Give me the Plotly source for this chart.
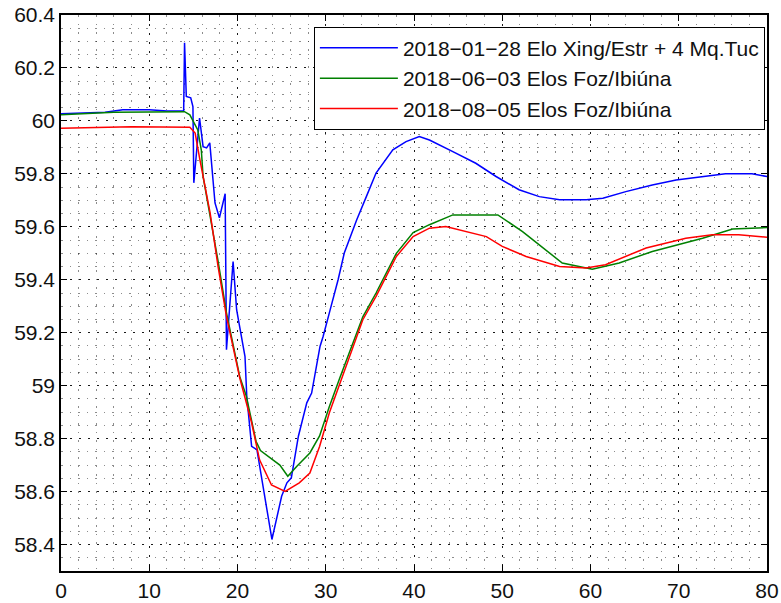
import plotly.graph_objects as go

# Frequency response (Hz) after three disturbance events, time in seconds
t_blue = [0, 5, 7, 10, 12, 13.9, 14.0, 14.2, 14.7, 14.95, 15.05, 15.7, 16.1, 16.5, 16.86,
          17.2, 17.45, 17.95, 18.6, 18.75, 19.5, 19.9, 20.3, 20.85, 21.05, 21.6, 22.2,
          22.75, 23.9, 25.0, 25.6, 26.1, 26.9, 27.85, 28.4, 29.35, 29.7, 30.4, 31.4, 32.1,
          33.5, 34.6, 35.7, 37.6, 39.1, 40.6, 41.75, 44.4, 47.0, 49.3, 51.9, 54.2, 56.5,
          59.5, 61.4, 64.0, 67.0, 69.7, 72.7, 75.3, 78.3, 80]
f_blue = [60.027, 60.033, 60.042, 60.042, 60.037, 60.037, 60.295, 60.092, 60.087, 60.054,
          59.766, 60.011, 59.903, 59.898, 59.917, 59.790, 59.690, 59.634, 59.725, 59.136,
          59.469, 59.287, 59.210, 59.110, 58.960, 58.771, 58.758, 58.645, 58.419, 58.582,
          58.633, 58.652, 58.809, 58.935, 58.972, 59.148, 59.186, 59.274, 59.400, 59.501,
          59.626, 59.714, 59.803, 59.891, 59.922, 59.941, 59.928, 59.884, 59.840, 59.790,
          59.740, 59.714, 59.702, 59.702, 59.708, 59.733, 59.758, 59.777, 59.790, 59.800,
          59.800, 59.790]

t_green = [0, 6, 14.0, 14.6, 15.5, 15.9, 16.1, 16.7, 17.8, 18.75, 19.5, 20.25, 21.0, 21.6,
           22.1, 22.6, 24.8, 25.7, 26.7, 28.2, 29.3, 30.4, 31.6, 34.2, 35.7, 38.0, 39.9,
           41.75, 44.4, 49.5, 52.3, 56.8, 60.2, 63.25, 67.0, 72.7, 76.1, 80]
f_green = [60.023, 60.033, 60.035, 60.023, 59.966, 59.890, 59.790, 59.677, 59.470, 59.275,
           59.150, 59.035, 58.960, 58.870, 58.790, 58.755, 58.700, 58.658, 58.695, 58.746,
           58.810, 58.920, 59.030, 59.260, 59.350, 59.500, 59.578, 59.608, 59.645, 59.645,
           59.582, 59.463, 59.440, 59.463, 59.507, 59.557, 59.592, 59.597]

t_red = [0, 6, 8, 14.6, 15.2, 15.7, 16.5, 16.9, 17.8, 18.75, 20.25, 20.8, 21.6, 22.5, 23.85,
         25.4, 27.0, 28.2, 29.3, 30.4, 31.6, 34.2, 35.7, 38.0, 39.9, 41.75, 43.6, 48.2, 50.0,
         52.7, 56.5, 59.5, 61.7, 66.3, 70.8, 73.8, 76.8, 80]
f_red = [59.972, 59.975, 59.978, 59.976, 59.954, 59.860, 59.727, 59.652, 59.450, 59.262,
         59.030, 58.960, 58.860, 58.720, 58.625, 58.601, 58.633, 58.670, 58.770, 58.897,
         59.010, 59.249, 59.337, 59.488, 59.563, 59.595, 59.601, 59.563, 59.526, 59.488,
         59.450, 59.444, 59.457, 59.520, 59.557, 59.570, 59.570, 59.561]

names = ["2018\u221201\u221228 Elo Xing/Estr + 4 Mq.Tuc",
         "2018\u221206\u221203 Elos Foz/Ibiúna",
         "2018\u221208\u221205 Elos Foz/Ibiúna"]
colors = ["#0000FF", "#008000", "#FF0000"]

FONT = "Liberation Sans, Arial, sans-serif"

fig = go.Figure()
for i, (t, f) in enumerate([(t_blue, f_blue), (t_green, f_green), (t_red, f_red)]):
    fig.add_trace(go.Scatter(x=t, y=f, mode="lines", name=names[i],
                             line=dict(color=colors[i], width=1.5)))

axis_common = dict(
    automargin=False,
    showline=True, linecolor="#000000", linewidth=1.5, mirror="ticks",
    ticks="inside", ticklen=6, tickcolor="#000000", tickwidth=1,
    showgrid=True, gridcolor="rgba(0,0,0,0.9)", gridwidth=1.3, griddash="2px,7px",
    zeroline=False,
    tickfont=dict(family=FONT, size=21, color="#111111"),
)

minor_grid = dict(showgrid=True, gridcolor="rgba(0,0,0,0.45)", gridwidth=1,
                  griddash="1.5px,7px", ticks="")

fig.update_xaxes(range=[0, 80], dtick=10, tick0=0, minor=dict(dtick=2, **minor_grid),
                 **axis_common)
fig.update_yaxes(range=[58.3, 60.4], dtick=0.2, tick0=58.4, minor=dict(dtick=0.05, **minor_grid),
                 **axis_common)

fig.update_layout(
    width=781, height=603,
    margin=dict(l=61, r=14, t=15, b=32, autoexpand=False),
    plot_bgcolor="white", paper_bgcolor="white",
    font=dict(family=FONT, color="#111111"),
    showlegend=True,
    legend=dict(x=0.997, y=0.979, xanchor="right", yanchor="top",
                bgcolor="white", bordercolor="#000000", borderwidth=1,
                font=dict(size=21), itemwidth=78,
                traceorder="normal"),
)

fig.write_html("out.html")
